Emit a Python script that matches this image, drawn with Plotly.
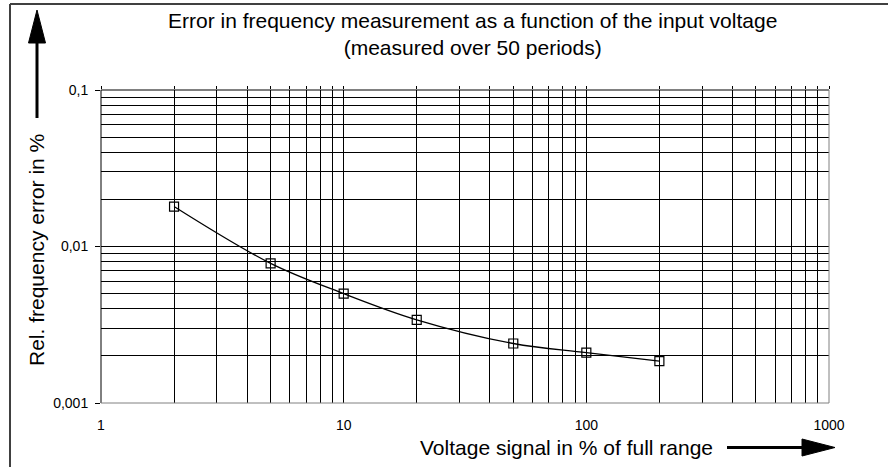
import plotly.graph_objects as go

# Measured relative frequency error vs. input signal level
voltage_pct = [2, 5, 10, 20, 50, 100, 200]
rel_error_pct = [0.018, 0.0078, 0.005, 0.0034, 0.0024, 0.0021, 0.00185]

x_major = [1, 10, 100, 1000]
x_major_text = ["1", "10", "100", "1000"]
y_major = [0.001, 0.01, 0.1]
y_major_text = ["0,001", "0,01", "0,1"]

x_minor = [m * d for d in (1, 10, 100) for m in range(2, 10)]
y_minor = [m * d for d in (0.001, 0.01) for m in range(2, 10)]

W, H = 888, 467
L, R, T, B = 101, 59, 90, 64
PW, PH = W - L - R, H - T - B


def px(x):
    return (x - L) / PW


def py(y):
    return (H - B - y) / PH


FONT = "Liberation Sans, Arial, sans-serif"

fig = go.Figure()
fig.add_trace(go.Scatter(
    x=voltage_pct, y=rel_error_pct, mode="lines+markers",
    line=dict(color="black", width=1.3, shape="spline", smoothing=1.0),
    marker=dict(symbol="square-open", size=9, color="black", line=dict(width=1.2)),
    hoverinfo="x+y", showlegend=False,
))
# carrier for the top tick axis
fig.add_trace(go.Scatter(x=[1], y=[None], xaxis="x2", yaxis="y",
                         mode="markers", showlegend=False, hoverinfo="skip"))

grid = dict(color="black", width=1)

fig.update_layout(
    width=W, height=H,
    margin=dict(l=L, r=R, t=T, b=B, pad=0),
    paper_bgcolor="white", plot_bgcolor="white",
    font=dict(family=FONT, color="black", size=14),
    xaxis=dict(
        type="log", range=[0, 3],
        tickmode="array", tickvals=x_major, ticktext=x_major_text,
        ticks="", ticklabelstandoff=12,
        showgrid=True, gridcolor=grid["color"], gridwidth=grid["width"],
        minor=dict(tickmode="array", tickvals=x_minor, showgrid=True,
                   gridcolor=grid["color"], gridwidth=grid["width"], ticks=""),
        showline=False, zeroline=False,
        tickfont=dict(size=14),
    ),
    xaxis2=dict(
        type="log", range=[0, 3], overlaying="x", side="top",
        tickmode="array", tickvals=x_major, ticks="outside", ticklen=3,
        tickcolor="black", showticklabels=False, showgrid=False,
        minor=dict(tickmode="array", tickvals=x_minor, ticks="outside",
                   ticklen=3, tickcolor="black", showgrid=False),
        showline=False, zeroline=False,
    ),
    yaxis=dict(
        type="log", range=[-3, -1],
        tickmode="array", tickvals=y_major, ticktext=y_major_text,
        ticks="outside", ticklen=5, tickcolor="black", ticklabelstandoff=4,
        showgrid=True, gridcolor=grid["color"], gridwidth=grid["width"],
        minor=dict(tickmode="array", tickvals=y_minor, showgrid=True,
                   gridcolor=grid["color"], gridwidth=grid["width"], ticks=""),
        showline=False, zeroline=False,
        tickfont=dict(size=14),
    ),
)

shapes = [
    # plot border
    dict(type="line", xref="paper", yref="paper", x0=0, x1=0, y0=0, y1=1,
         line=dict(color="black", width=1)),
    dict(type="line", xref="paper", yref="paper", x0=0, x1=1, y0=1, y1=1,
         line=dict(color="black", width=1)),
    dict(type="line", xref="paper", yref="paper", x0=1, x1=1, y0=0, y1=1,
         line=dict(color="#808080", width=1)),
    dict(type="line", xref="paper", yref="paper", x0=0, x1=1, y0=0, y1=0,
         line=dict(color="#808080", width=1)),
    # outer frame
    dict(type="line", xref="paper", yref="paper", x0=px(10), x1=px(10),
         y0=py(4), y1=py(H), line=dict(color="#404040", width=2)),
    dict(type="line", xref="paper", yref="paper", x0=px(10), x1=px(W),
         y0=py(4), y1=py(4), line=dict(color="#404040", width=2)),
    # y arrow
    dict(type="line", xref="paper", yref="paper", x0=px(37), x1=px(37),
         y0=py(118), y1=py(40), line=dict(color="black", width=3)),
    dict(type="path", xref="paper", yref="paper",
         path=f"M {px(37)},{py(10)} L {px(28.5)},{py(43)} L {px(45.5)},{py(43)} Z",
         fillcolor="black", line=dict(color="black", width=1)),
    # x arrow
    dict(type="line", xref="paper", yref="paper", x0=px(727), x1=px(805),
         y0=py(447.5), y1=py(447.5), line=dict(color="black", width=3)),
    dict(type="path", xref="paper", yref="paper",
         path=f"M {px(835)},{py(447.5)} L {px(802)},{py(439)} L {px(802)},{py(456)} Z",
         fillcolor="black", line=dict(color="black", width=1)),
]
fig.update_layout(shapes=shapes)

annotations = [
    dict(text="Error in frequency measurement as a function of the input voltage<br>(measured over 50 periods)",
         x=px(472), y=py(7), xref="paper", yref="paper", xanchor="center", yanchor="top",
         showarrow=False, font=dict(size=21, family=FONT, color="black"), align="center"),
    dict(text="Voltage signal in % of full range",
         x=px(566.5), y=py(447), xref="paper", yref="paper", xanchor="center", yanchor="middle",
         showarrow=False, font=dict(size=21, family=FONT, color="black")),
    dict(text="Rel. frequency error in %",
         x=px(36), y=py(250), xref="paper", yref="paper", xanchor="center", yanchor="middle",
         showarrow=False, textangle=-90, font=dict(size=21, family=FONT, color="black")),
]
fig.update_layout(annotations=annotations)

fig.write_html("out.html")
